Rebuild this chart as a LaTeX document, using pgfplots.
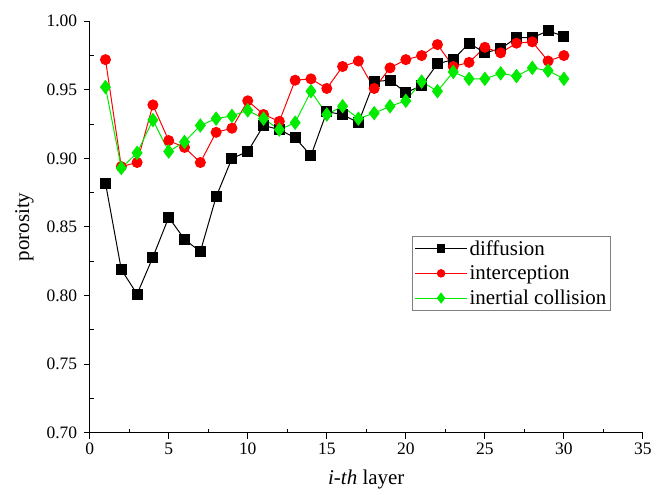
\documentclass[border={12pt 2pt 2pt 12pt}]{standalone}
\usepackage{pgfplots}
\pgfplotsset{compat=1.18}
\usepackage{fontspec}
\setmainfont{Liberation Serif}
\definecolor{ored}{RGB}{255,0,0}
\definecolor{ogreen}{RGB}{0,235,0}
\begin{document}
\begin{tikzpicture}
\begin{axis}[
    scale only axis,
    width=554pt, height=412pt,
    xmin=0, xmax=35, ymin=0.70, ymax=1.00,
    axis lines*=left,
    axis line style={-, line width=1.2pt},
    xtick={0,5,...,35}, ytick={0.70,0.75,...,1.00},
    minor x tick num=1, minor y tick num=1,
    tick align=outside,
    major tick length=6pt, minor tick length=4pt,
    tick style={line width=1pt, black},
    minor x tick style={yshift=4pt},
    minor y tick style={xshift=4pt},
    /pgf/number format/assume math mode=true,
    yticklabel style={xshift=-3pt, /pgf/number format/fixed, /pgf/number format/fixed zerofill, /pgf/number format/precision=2},
    xticklabel style={yshift=-1pt},
    ticklabel style={font=\fontsize{17.5}{19}\selectfont},
    xlabel={\textit{i-th} layer},
    ylabel={porosity},
    label style={font=\fontsize{21}{23}\selectfont},
    ylabel style={yshift=6pt},
    xlabel style={yshift=-8pt},
    legend style={at={(0.583,0.478)}, anchor=north west, draw=gray, line width=0.8pt,
        font=\fontsize{21}{23}\selectfont, row sep=5pt, inner sep=2pt},
    legend cell align=left,
    legend image code/.code={
        \draw[mark repeat=2, mark phase=2, every mark/.append style={scale=0.75}]
            plot coordinates {(0pt,0pt) (26pt,0pt) (52pt,0pt)};
    },
]
\addplot[black, line width=1pt, mark=square*, mark size=5pt, mark options={solid, fill=black}] coordinates {
    (1,0.882) (2,0.819) (3,0.801) (4,0.828) (5,0.857) (6,0.841) (7,0.832) (8,0.872)
    (9,0.900) (10,0.905) (11,0.924) (12,0.921) (13,0.915) (14,0.902) (15,0.934)
    (16,0.932) (17,0.926) (18,0.956) (19,0.957) (20,0.948) (21,0.953) (22,0.969)
    (23,0.972) (24,0.984) (25,0.977) (26,0.980) (27,0.988) (28,0.988) (29,0.993) (30,0.989)
};
\addlegendentry{diffusion}
\addplot[ored, line width=1pt, mark=*, mark size=5pt, mark options={solid, fill=ored}] coordinates {
    (1,0.972) (2,0.894) (3,0.897) (4,0.939) (5,0.913) (6,0.908) (7,0.897) (8,0.919)
    (9,0.922) (10,0.942) (11,0.932) (12,0.927) (13,0.957) (14,0.958) (15,0.951)
    (16,0.967) (17,0.971) (18,0.951) (19,0.966) (20,0.972) (21,0.975) (22,0.983)
    (23,0.967) (24,0.970) (25,0.981) (26,0.977) (27,0.984) (28,0.985) (29,0.971) (30,0.975)
};
\addlegendentry{interception}
\addplot[ogreen, line width=1pt, mark=diamond*, mark size=6.5pt, mark options={solid, fill=ogreen}] coordinates {
    (1,0.952) (2,0.893) (3,0.904) (4,0.928) (5,0.905) (6,0.912) (7,0.924) (8,0.929)
    (9,0.931) (10,0.935) (11,0.929) (12,0.921) (13,0.926) (14,0.949) (15,0.932)
    (16,0.938) (17,0.929) (18,0.933) (19,0.938) (20,0.942) (21,0.956) (22,0.949)
    (23,0.963) (24,0.958) (25,0.958) (26,0.962) (27,0.960) (28,0.966) (29,0.964) (30,0.958)
};
\addlegendentry{inertial collision}
\end{axis}
\end{tikzpicture}
\end{document}
